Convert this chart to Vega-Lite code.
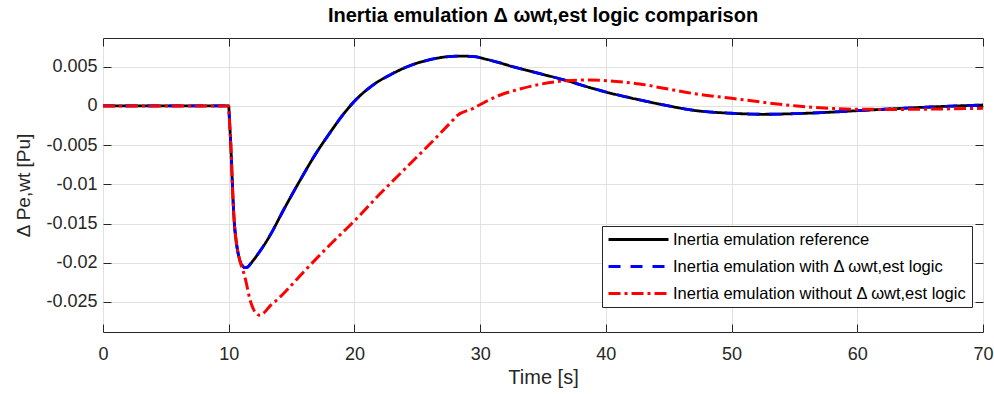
{
  "$schema": "https://vega.github.io/schema/vega-lite/v6.json",
  "autosize": "none",
  "width": 880,
  "height": 294,
  "padding": {"left": 103, "top": 38, "right": 11, "bottom": 62},
  "background": "white",
  "title": {
    "text": "Inertia emulation Δ ωwt,est logic comparison",
    "font": "Liberation Sans",
    "fontSize": 20,
    "fontWeight": "bold",
    "color": "#000000",
    "anchor": "middle",
    "baseline": "alphabetic",
    "offset": -4
  },
  "config": {
    "font": "Liberation Sans",
    "view": {"stroke": "#262626", "strokeWidth": 1},
    "axis": {
      "labelFont": "Liberation Sans",
      "titleFont": "Liberation Sans",
      "labelColor": "#262626",
      "titleColor": "#262626",
      "tickColor": "#262626",
      "gridColor": "#e1e1e1",
      "gridWidth": 1,
      "domain": false,
      "tickSize": -8,
      "tickWidth": 1
    },
    "legend": {
      "orient": "none",
      "legendX": 499,
      "legendY": 188,
      "fillColor": "white",
      "strokeColor": "#262626",
      "padding": 5,
      "symbolType": "stroke",
      "symbolSize": 3600,
      "symbolStrokeWidth": 3,
      "clipHeight": 17,
      "labelFont": "Liberation Sans",
      "labelFontSize": 16.5,
      "labelColor": "#000000",
      "labelOffset": 3,
      "labelLimit": 400,
      "rowPadding": 10
    }
  },
  "datasets": {
    "ref": [
      {"t": 0, "v": 0, "s": "Inertia emulation reference"},
      {"t": 10, "v": 0, "s": "Inertia emulation reference"},
      {"t": 10.05, "v": -0.0015, "s": "Inertia emulation reference"},
      {"t": 10.12, "v": -0.0035, "s": "Inertia emulation reference"},
      {"t": 10.18, "v": -0.0055, "s": "Inertia emulation reference"},
      {"t": 10.28, "v": -0.0095, "s": "Inertia emulation reference"},
      {"t": 10.36, "v": -0.0125, "s": "Inertia emulation reference"},
      {"t": 10.45, "v": -0.015, "s": "Inertia emulation reference"},
      {"t": 10.56, "v": -0.0168, "s": "Inertia emulation reference"},
      {"t": 10.68, "v": -0.0182, "s": "Inertia emulation reference"},
      {"t": 10.82, "v": -0.0193, "s": "Inertia emulation reference"},
      {"t": 10.95, "v": -0.02, "s": "Inertia emulation reference"},
      {"t": 11.1, "v": -0.0204, "s": "Inertia emulation reference"},
      {"t": 11.25, "v": -0.0206, "s": "Inertia emulation reference"},
      {"t": 11.43, "v": -0.0206, "s": "Inertia emulation reference"},
      {"t": 11.6, "v": -0.0204, "s": "Inertia emulation reference"},
      {"t": 11.8, "v": -0.02, "s": "Inertia emulation reference"},
      {"t": 12.0, "v": -0.0196, "s": "Inertia emulation reference"},
      {"t": 12.23, "v": -0.0191, "s": "Inertia emulation reference"},
      {"t": 12.75, "v": -0.0179, "s": "Inertia emulation reference"},
      {"t": 13.29, "v": -0.0165, "s": "Inertia emulation reference"},
      {"t": 14.35, "v": -0.0133, "s": "Inertia emulation reference"},
      {"t": 15.67, "v": -0.0095, "s": "Inertia emulation reference"},
      {"t": 17.0, "v": -0.0059, "s": "Inertia emulation reference"},
      {"t": 18.06, "v": -0.0034, "s": "Inertia emulation reference"},
      {"t": 19.0, "v": -0.0013, "s": "Inertia emulation reference"},
      {"t": 20.0, "v": 0.0006, "s": "Inertia emulation reference"},
      {"t": 21.5, "v": 0.0027, "s": "Inertia emulation reference"},
      {"t": 23.0, "v": 0.0041, "s": "Inertia emulation reference"},
      {"t": 24.5, "v": 0.0052, "s": "Inertia emulation reference"},
      {"t": 26.0, "v": 0.0059, "s": "Inertia emulation reference"},
      {"t": 27.3, "v": 0.00627, "s": "Inertia emulation reference"},
      {"t": 28.4, "v": 0.00636, "s": "Inertia emulation reference"},
      {"t": 29.5, "v": 0.0063, "s": "Inertia emulation reference"},
      {"t": 30.5, "v": 0.00596, "s": "Inertia emulation reference"},
      {"t": 31.5, "v": 0.00553, "s": "Inertia emulation reference"},
      {"t": 32.5, "v": 0.00506, "s": "Inertia emulation reference"},
      {"t": 34.77, "v": 0.00412, "s": "Inertia emulation reference"},
      {"t": 36.9, "v": 0.00323, "s": "Inertia emulation reference"},
      {"t": 38.5, "v": 0.00245, "s": "Inertia emulation reference"},
      {"t": 40.08, "v": 0.00175, "s": "Inertia emulation reference"},
      {"t": 42.7, "v": 0.00077, "s": "Inertia emulation reference"},
      {"t": 44.6, "v": 0.00013, "s": "Inertia emulation reference"},
      {"t": 47.2, "v": -0.0006, "s": "Inertia emulation reference"},
      {"t": 50, "v": -0.00093, "s": "Inertia emulation reference"},
      {"t": 52.5, "v": -0.00106, "s": "Inertia emulation reference"},
      {"t": 55.2, "v": -0.00097, "s": "Inertia emulation reference"},
      {"t": 57.8, "v": -0.0008, "s": "Inertia emulation reference"},
      {"t": 60, "v": -0.0006, "s": "Inertia emulation reference"},
      {"t": 63.1, "v": -0.00034, "s": "Inertia emulation reference"},
      {"t": 65.8, "v": -0.00013, "s": "Inertia emulation reference"},
      {"t": 70, "v": 0.00013, "s": "Inertia emulation reference"}
    ],
    "with": [
      {"t": 0, "v": 0, "s": "Inertia emulation with Δ ωwt,est logic"},
      {"t": 10, "v": 0, "s": "Inertia emulation with Δ ωwt,est logic"},
      {"t": 10.05, "v": -0.0015, "s": "Inertia emulation with Δ ωwt,est logic"},
      {"t": 10.12, "v": -0.0035, "s": "Inertia emulation with Δ ωwt,est logic"},
      {"t": 10.18, "v": -0.0055, "s": "Inertia emulation with Δ ωwt,est logic"},
      {"t": 10.28, "v": -0.0095, "s": "Inertia emulation with Δ ωwt,est logic"},
      {"t": 10.36, "v": -0.0125, "s": "Inertia emulation with Δ ωwt,est logic"},
      {"t": 10.45, "v": -0.015, "s": "Inertia emulation with Δ ωwt,est logic"},
      {"t": 10.56, "v": -0.0168, "s": "Inertia emulation with Δ ωwt,est logic"},
      {"t": 10.68, "v": -0.0182, "s": "Inertia emulation with Δ ωwt,est logic"},
      {"t": 10.82, "v": -0.0193, "s": "Inertia emulation with Δ ωwt,est logic"},
      {"t": 10.95, "v": -0.02, "s": "Inertia emulation with Δ ωwt,est logic"},
      {"t": 11.1, "v": -0.0204, "s": "Inertia emulation with Δ ωwt,est logic"},
      {"t": 11.25, "v": -0.0206, "s": "Inertia emulation with Δ ωwt,est logic"},
      {"t": 11.43, "v": -0.0206, "s": "Inertia emulation with Δ ωwt,est logic"},
      {"t": 11.6, "v": -0.0204, "s": "Inertia emulation with Δ ωwt,est logic"},
      {"t": 11.8, "v": -0.02, "s": "Inertia emulation with Δ ωwt,est logic"},
      {"t": 12.0, "v": -0.0196, "s": "Inertia emulation with Δ ωwt,est logic"},
      {"t": 12.23, "v": -0.0191, "s": "Inertia emulation with Δ ωwt,est logic"},
      {"t": 12.75, "v": -0.0179, "s": "Inertia emulation with Δ ωwt,est logic"},
      {"t": 13.29, "v": -0.0165, "s": "Inertia emulation with Δ ωwt,est logic"},
      {"t": 14.35, "v": -0.0133, "s": "Inertia emulation with Δ ωwt,est logic"},
      {"t": 15.67, "v": -0.0095, "s": "Inertia emulation with Δ ωwt,est logic"},
      {"t": 17.0, "v": -0.0059, "s": "Inertia emulation with Δ ωwt,est logic"},
      {"t": 18.06, "v": -0.0034, "s": "Inertia emulation with Δ ωwt,est logic"},
      {"t": 19.0, "v": -0.0013, "s": "Inertia emulation with Δ ωwt,est logic"},
      {"t": 20.0, "v": 0.0006, "s": "Inertia emulation with Δ ωwt,est logic"},
      {"t": 21.5, "v": 0.0027, "s": "Inertia emulation with Δ ωwt,est logic"},
      {"t": 23.0, "v": 0.0041, "s": "Inertia emulation with Δ ωwt,est logic"},
      {"t": 24.5, "v": 0.0052, "s": "Inertia emulation with Δ ωwt,est logic"},
      {"t": 26.0, "v": 0.0059, "s": "Inertia emulation with Δ ωwt,est logic"},
      {"t": 27.3, "v": 0.00627, "s": "Inertia emulation with Δ ωwt,est logic"},
      {"t": 28.4, "v": 0.00636, "s": "Inertia emulation with Δ ωwt,est logic"},
      {"t": 29.5, "v": 0.0063, "s": "Inertia emulation with Δ ωwt,est logic"},
      {"t": 30.5, "v": 0.00596, "s": "Inertia emulation with Δ ωwt,est logic"},
      {"t": 31.5, "v": 0.00553, "s": "Inertia emulation with Δ ωwt,est logic"},
      {"t": 32.5, "v": 0.00506, "s": "Inertia emulation with Δ ωwt,est logic"},
      {"t": 34.77, "v": 0.00412, "s": "Inertia emulation with Δ ωwt,est logic"},
      {"t": 36.9, "v": 0.00323, "s": "Inertia emulation with Δ ωwt,est logic"},
      {"t": 38.5, "v": 0.00245, "s": "Inertia emulation with Δ ωwt,est logic"},
      {"t": 40.08, "v": 0.00175, "s": "Inertia emulation with Δ ωwt,est logic"},
      {"t": 42.7, "v": 0.00077, "s": "Inertia emulation with Δ ωwt,est logic"},
      {"t": 44.6, "v": 0.00013, "s": "Inertia emulation with Δ ωwt,est logic"},
      {"t": 47.2, "v": -0.0006, "s": "Inertia emulation with Δ ωwt,est logic"},
      {"t": 50, "v": -0.00093, "s": "Inertia emulation with Δ ωwt,est logic"},
      {"t": 52.5, "v": -0.00106, "s": "Inertia emulation with Δ ωwt,est logic"},
      {"t": 55.2, "v": -0.00097, "s": "Inertia emulation with Δ ωwt,est logic"},
      {"t": 57.8, "v": -0.0008, "s": "Inertia emulation with Δ ωwt,est logic"},
      {"t": 60, "v": -0.0006, "s": "Inertia emulation with Δ ωwt,est logic"},
      {"t": 63.1, "v": -0.00034, "s": "Inertia emulation with Δ ωwt,est logic"},
      {"t": 65.8, "v": -0.00013, "s": "Inertia emulation with Δ ωwt,est logic"},
      {"t": 70, "v": 0.00013, "s": "Inertia emulation with Δ ωwt,est logic"}
    ],
    "without": [
      {"t": 0, "v": 0, "s": "Inertia emulation without Δ ωwt,est logic"},
      {"t": 10, "v": 0, "s": "Inertia emulation without Δ ωwt,est logic"},
      {"t": 10.05, "v": -0.0015, "s": "Inertia emulation without Δ ωwt,est logic"},
      {"t": 10.12, "v": -0.0035, "s": "Inertia emulation without Δ ωwt,est logic"},
      {"t": 10.18, "v": -0.0055, "s": "Inertia emulation without Δ ωwt,est logic"},
      {"t": 10.28, "v": -0.0095, "s": "Inertia emulation without Δ ωwt,est logic"},
      {"t": 10.36, "v": -0.0125, "s": "Inertia emulation without Δ ωwt,est logic"},
      {"t": 10.45, "v": -0.015, "s": "Inertia emulation without Δ ωwt,est logic"},
      {"t": 10.56, "v": -0.0168, "s": "Inertia emulation without Δ ωwt,est logic"},
      {"t": 10.68, "v": -0.0182, "s": "Inertia emulation without Δ ωwt,est logic"},
      {"t": 10.82, "v": -0.0193, "s": "Inertia emulation without Δ ωwt,est logic"},
      {"t": 10.95, "v": -0.0201, "s": "Inertia emulation without Δ ωwt,est logic"},
      {"t": 11.1, "v": -0.0208, "s": "Inertia emulation without Δ ωwt,est logic"},
      {"t": 11.25, "v": -0.0216, "s": "Inertia emulation without Δ ωwt,est logic"},
      {"t": 11.43, "v": -0.0228, "s": "Inertia emulation without Δ ωwt,est logic"},
      {"t": 11.6, "v": -0.0241, "s": "Inertia emulation without Δ ωwt,est logic"},
      {"t": 11.83, "v": -0.0254, "s": "Inertia emulation without Δ ωwt,est logic"},
      {"t": 12.1, "v": -0.0263, "s": "Inertia emulation without Δ ωwt,est logic"},
      {"t": 12.49, "v": -0.0267, "s": "Inertia emulation without Δ ωwt,est logic"},
      {"t": 12.8, "v": -0.0264, "s": "Inertia emulation without Δ ωwt,est logic"},
      {"t": 13.29, "v": -0.0255, "s": "Inertia emulation without Δ ωwt,est logic"},
      {"t": 14.0, "v": -0.0245, "s": "Inertia emulation without Δ ωwt,est logic"},
      {"t": 14.61, "v": -0.0235, "s": "Inertia emulation without Δ ωwt,est logic"},
      {"t": 15.94, "v": -0.0212, "s": "Inertia emulation without Δ ωwt,est logic"},
      {"t": 18.06, "v": -0.0177, "s": "Inertia emulation without Δ ωwt,est logic"},
      {"t": 19.91, "v": -0.0148, "s": "Inertia emulation without Δ ωwt,est logic"},
      {"t": 22.04, "v": -0.0112, "s": "Inertia emulation without Δ ωwt,est logic"},
      {"t": 24.16, "v": -0.0078, "s": "Inertia emulation without Δ ωwt,est logic"},
      {"t": 26.28, "v": -0.0044, "s": "Inertia emulation without Δ ωwt,est logic"},
      {"t": 27.6, "v": -0.0022, "s": "Inertia emulation without Δ ωwt,est logic"},
      {"t": 28.2, "v": -0.0012, "s": "Inertia emulation without Δ ωwt,est logic"},
      {"t": 29.46, "v": -0.0003, "s": "Inertia emulation without Δ ωwt,est logic"},
      {"t": 30.5, "v": 0.0006, "s": "Inertia emulation without Δ ωwt,est logic"},
      {"t": 31.6, "v": 0.0014, "s": "Inertia emulation without Δ ωwt,est logic"},
      {"t": 32.8, "v": 0.002, "s": "Inertia emulation without Δ ωwt,est logic"},
      {"t": 34.77, "v": 0.00277, "s": "Inertia emulation without Δ ωwt,est logic"},
      {"t": 36.9, "v": 0.00323, "s": "Inertia emulation without Δ ωwt,est logic"},
      {"t": 38.74, "v": 0.00332, "s": "Inertia emulation without Δ ωwt,est logic"},
      {"t": 40.6, "v": 0.00315, "s": "Inertia emulation without Δ ωwt,est logic"},
      {"t": 42.7, "v": 0.00281, "s": "Inertia emulation without Δ ωwt,est logic"},
      {"t": 44.6, "v": 0.00226, "s": "Inertia emulation without Δ ωwt,est logic"},
      {"t": 47.2, "v": 0.00153, "s": "Inertia emulation without Δ ωwt,est logic"},
      {"t": 50, "v": 0.00098, "s": "Inertia emulation without Δ ωwt,est logic"},
      {"t": 52.5, "v": 0.00047, "s": "Inertia emulation without Δ ωwt,est logic"},
      {"t": 55.2, "v": 0.0, "s": "Inertia emulation without Δ ωwt,est logic"},
      {"t": 57.8, "v": -0.0003, "s": "Inertia emulation without Δ ωwt,est logic"},
      {"t": 60, "v": -0.00042, "s": "Inertia emulation without Δ ωwt,est logic"},
      {"t": 63.1, "v": -0.00044, "s": "Inertia emulation without Δ ωwt,est logic"},
      {"t": 65.8, "v": -0.0004, "s": "Inertia emulation without Δ ωwt,est logic"},
      {"t": 70, "v": -0.0003, "s": "Inertia emulation without Δ ωwt,est logic"}
    ]
  },
  "encoding": {
    "color": {
      "field": "s",
      "type": "nominal",
      "scale": {
        "domain": ["Inertia emulation reference", "Inertia emulation with Δ ωwt,est logic", "Inertia emulation without Δ ωwt,est logic"],
        "range": ["#000000", "#0000ff", "#ff0000"]
      },
      "legend": {"title": null}
    },
    "strokeDash": {
      "field": "s",
      "type": "nominal",
      "scale": {
        "domain": ["Inertia emulation reference", "Inertia emulation with Δ ωwt,est logic", "Inertia emulation without Δ ωwt,est logic"],
        "range": [[1, 0], [12, 10], [12, 4, 3, 4]]
      },
      "legend": {"title": null}
    }
  },
  "layer": [
    {
      "data": {"name": "ref"},
      "mark": {"type": "line", "strokeWidth": 2.8, "interpolate": "monotone"},
      "encoding": {
        "x": {
          "field": "t", "type": "quantitative",
          "scale": {"domain": [0, 70], "nice": false, "zero": false},
          "axis": {
            "orient": "bottom",
            "values": [0, 10, 20, 30, 40, 50, 60, 70],
            "labelFontSize": 18,
            "labelPadding": 21,
            "labelFlush": false,
            "title": "Time [s]",
            "titleFontSize": 20,
            "titleFontWeight": "normal",
            "titlePadding": 4,
            "grid": true
          }
        },
        "y": {
          "field": "v", "type": "quantitative",
          "scale": {"domain": [-0.02883, 0.00867], "nice": false, "zero": false},
          "axis": {
            "orient": "left",
            "values": [-0.025, -0.02, -0.015, -0.01, -0.005, 0, 0.005],
            "labelExpr": "'' + datum.value",
            "labelFontSize": 18,
            "labelPadding": 14,
            "labelFlush": false,
            "title": "Δ Pe,wt [Pu]",
            "titleFontSize": 19,
            "titleFontWeight": "normal",
            "titlePadding": 12,
            "grid": true
          }
        }
      }
    },
    {
      "data": {"name": "with"},
      "mark": {"type": "line", "strokeWidth": 2.8, "interpolate": "monotone"},
      "encoding": {
        "x": {
          "field": "t", "type": "quantitative",
          "axis": {"orient": "top", "values": [0, 10, 20, 30, 40, 50, 60, 70], "labels": false, "grid": false, "title": null}
        },
        "y": {
          "field": "v", "type": "quantitative",
          "axis": {"orient": "right", "values": [-0.025, -0.02, -0.015, -0.01, -0.005, 0, 0.005], "labels": false, "grid": false, "title": null}
        }
      }
    },
    {
      "data": {"name": "without"},
      "mark": {"type": "line", "strokeWidth": 3, "interpolate": "monotone"},
      "encoding": {
        "x": {"field": "t", "type": "quantitative", "axis": null},
        "y": {"field": "v", "type": "quantitative", "axis": null}
      }
    }
  ],
  "resolve": {"axis": {"x": "independent", "y": "independent"}}
}
